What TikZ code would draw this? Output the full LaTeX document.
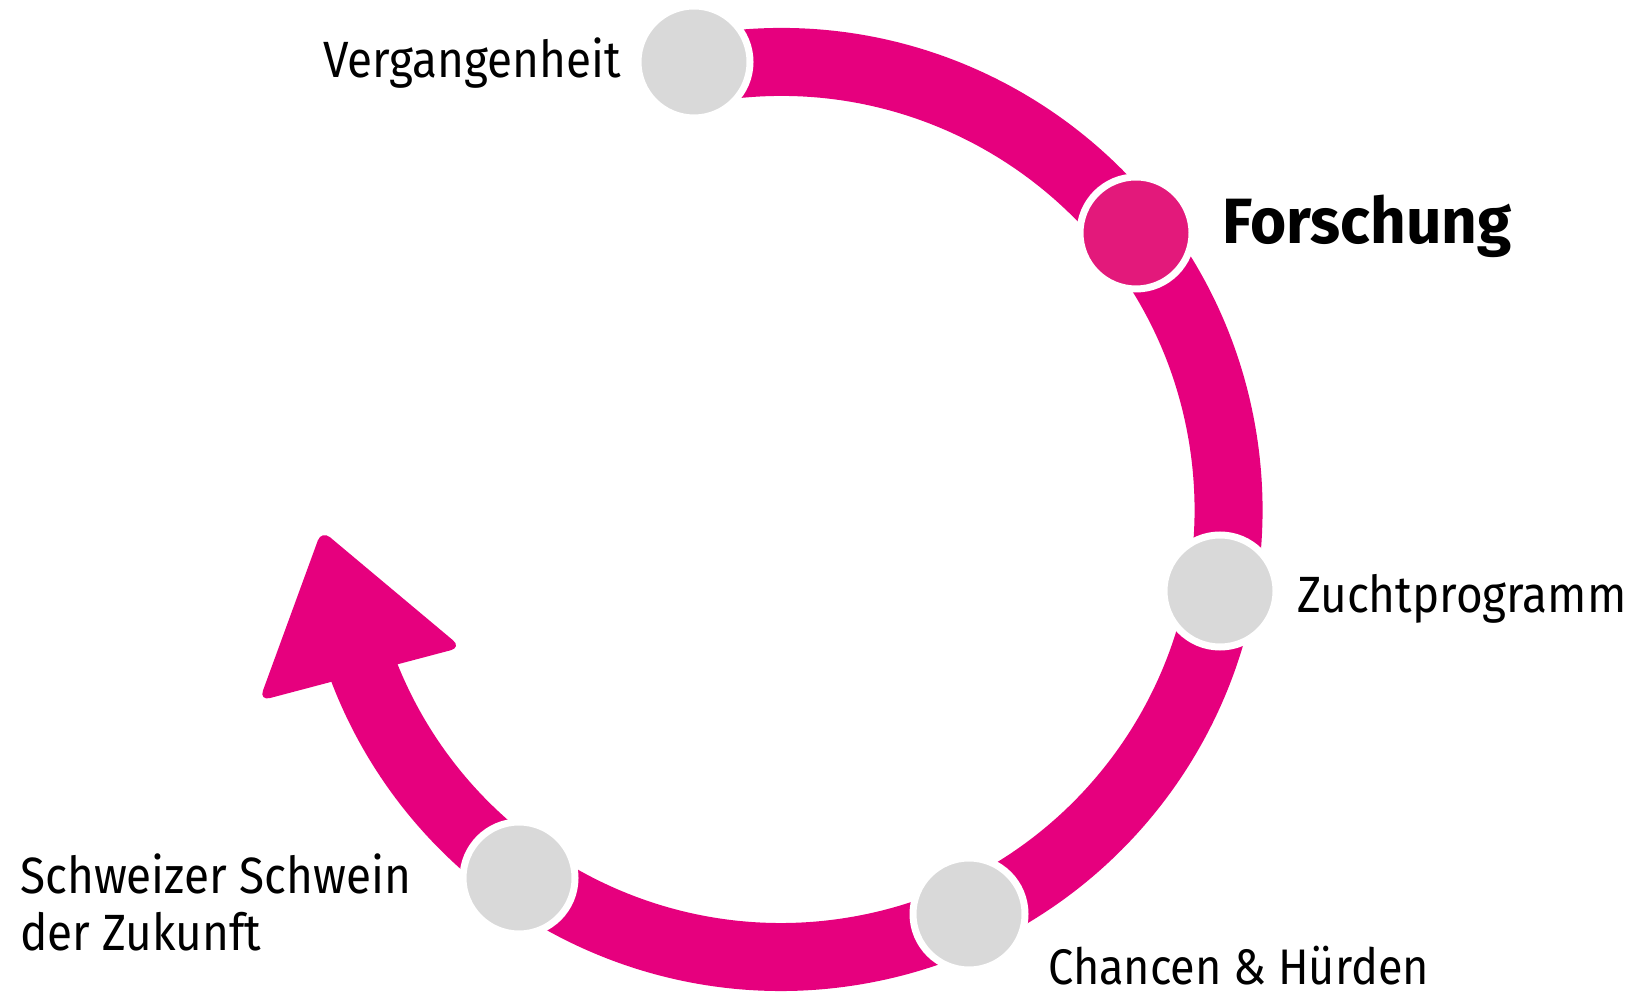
\documentclass[tikz,border=0pt]{standalone}
\usepackage{fontspec}
\setmainfont{Fira Sans}[UprightFeatures={FakeStretch=0.9},
  BoldFeatures={FakeStretch=0.97}]
\usepackage{tikz}

\definecolor{ringpink}{HTML}{E6007E}
\definecolor{activepink}{HTML}{E3197B}
\definecolor{stationgray}{HTML}{D9D9D9}

\begin{document}
\begin{tikzpicture}[x=1pt,y=1pt,
  station/.style={circle,fill=stationgray,draw=white,line width=7pt,
    minimum size=112pt,inner sep=0pt},
  steptext/.style={inner sep=0pt,font=\fontsize{51}{57}\selectfont}]
\useasboundingbox (0,0) rectangle (1632,996);
\coordinate (c) at (781,486.5);
% ring with arrow
\draw[ringpink,line width=68pt]
  ([shift={(99:447.5)}]c) arc[start angle=99,end angle=-161,radius=447.5];
\fill[ringpink,rounded corners=11pt]
  (259.2,295.1) -- (321.6,465.8) -- (461.5,348.6) -- cycle;
% stations
\node[station] (verg) at (694,934) {};
\node[station,fill=activepink] (forsch) at (1136,763) {};
\node[station] (zucht) at (1220,405) {};
\node[station] (chancen) at (969,82) {};
\node[station] (zukunft) at (519,118) {};
% texts
\node[steptext,anchor=base east] (tverg) at (621,918) {Vergangenheit};
\node[steptext,anchor=base west,font=\fontsize{64}{70}\selectfont\bfseries]
  (tforsch) at (1222,752) {Forschung};
\node[steptext,anchor=base west] (tzucht) at (1297,383) {Zuchtprogramm};
\node[steptext,anchor=base west,font=\fontsize{50}{57}\selectfont]
  (tchancen) at (1048,12) {Chancen \& Hürden};
\node[steptext,anchor=north west,align=left] (tzukunft) at (20,142)
  {Schweizer Schwein\\der Zukunft};
\end{tikzpicture}
\end{document}
